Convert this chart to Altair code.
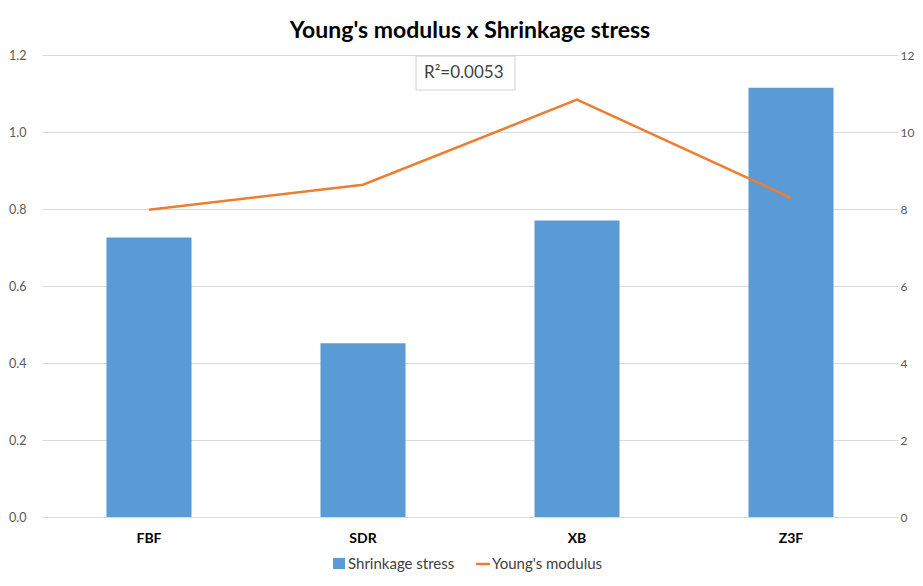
import altair as alt
import pandas as pd

categories = ["FBF", "SDR", "XB", "Z3F"]
shrinkage_stress = [0.726, 0.451, 0.770, 1.115]
youngs_modulus = [7.98, 8.63, 10.84, 8.29]

df = pd.DataFrame({"cat": categories, "stress": shrinkage_stress, "young": youngs_modulus})
one = pd.DataFrame({"a": [0]})

FONT = "Lato"
x = alt.X("cat:N", sort=categories, title=None,
          scale=alt.Scale(paddingInner=0, paddingOuter=0),
          axis=alt.Axis(labelAngle=0, labelFontWeight="bold", labelFontSize=14, labelColor="#000000",
                        labelPadding=14, ticks=False, domainColor="#d9d9d9", labelFont=FONT))

bars = alt.Chart(df).mark_bar(size=85, color="#5b9bd5").encode(
    x=x,
    y=alt.Y("stress:Q", title=None, scale=alt.Scale(domain=[0, 1.2]),
            axis=alt.Axis(orient="left", values=[0, 0.2, 0.4, 0.6, 0.8, 1.0, 1.2], format=".1f",
                          grid=True, gridColor="#d9d9d9", domain=False, ticks=False,
                          labelColor="#595959", labelFontSize=12.5, labelPadding=16, labelFont=FONT)),
)

line = alt.Chart(df).mark_line(color="#ed7d31", strokeWidth=2.5).encode(
    x=x,
    y=alt.Y("young:Q", title=None, scale=alt.Scale(domain=[0, 12]),
            axis=alt.Axis(orient="right", values=[0, 2, 4, 6, 8, 10, 12], format="d",
                          grid=False, domain=False, ticks=False,
                          labelColor="#595959", labelFontSize=12, labelPadding=2, labelFont=FONT)),
)

r2_box = alt.Chart(one).mark_rect(fill="white", stroke="#d0d0d0", strokeWidth=1).encode(
    x=alt.value(374), x2=alt.value(473), y=alt.value(1), y2=alt.value(35))
r2_text = alt.Chart(one).mark_text(align="left", baseline="middle", fontSize=17, font=FONT,
                                   color="#404040").encode(
    x=alt.value(382), y=alt.value(18), text=alt.value("R²=0.0053"))

leg_sq = alt.Chart(one).mark_rect(color="#5b9bd5").encode(
    x=alt.value(291), x2=alt.value(303), y=alt.value(503), y2=alt.value(514))
leg_t1 = alt.Chart(one).mark_text(align="left", baseline="middle", fontSize=15, font=FONT,
                                  color="#404040").encode(
    x=alt.value(306), y=alt.value(509), text=alt.value("Shrinkage stress"))
leg_ln = alt.Chart(one).mark_rule(color="#ed7d31", strokeWidth=2.5).encode(
    x=alt.value(434), x2=alt.value(448), y=alt.value(509))
leg_t2 = alt.Chart(one).mark_text(align="left", baseline="middle", fontSize=15, font=FONT,
                                  color="#404040").encode(
    x=alt.value(450), y=alt.value(509), text=alt.value("Young's modulus"))

chart = alt.layer(bars, line).resolve_scale(y="independent")
chart = alt.layer(chart, r2_box, r2_text, leg_sq, leg_t1, leg_ln, leg_t2).properties(
    width=856, height=462,
    title=alt.TitleParams("Young's modulus x Shrinkage stress", fontSize=23, fontWeight="bold",
                          font=FONT, color="#000000", anchor="middle", offset=6),
    autosize=alt.AutoSizeParams(type="none"),
    padding={"left": 34, "top": 47, "right": 17, "bottom": 58},
).configure_view(stroke=None)

chart.save("out.html", embed_options={"renderer": "svg", "actions": False})
